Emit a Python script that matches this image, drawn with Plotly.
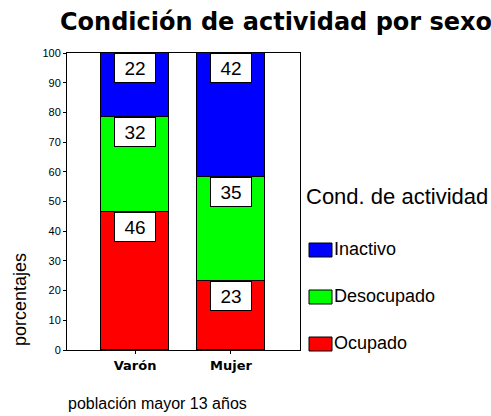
import plotly.graph_objects as go

# Data
sexos = ["Varón", "Mujer"]
condiciones = ["Ocupado", "Desocupado", "Inactivo"]
ocupado = [46.5, 23.2]
desocupado = [31.8, 35.0]
inactivo = [21.7, 41.8]
etiquetas = {"Ocupado": [46, 23], "Desocupado": [32, 35], "Inactivo": [22, 42]}
colores = {"Ocupado": "#FF0000", "Desocupado": "#00FF00", "Inactivo": "#0000FF"}
valores = {"Ocupado": ocupado, "Desocupado": desocupado, "Inactivo": inactivo}

W, H = 491, 416
L, R, T, B = 67, 300, 53, 350  # plot area in px

def px_x(x):
    return (x - L) / (R - L)

def px_y(y):
    return (B - y) / (B - T)

fig = go.Figure()
for c in condiciones:
    fig.add_trace(go.Bar(x=sexos, y=valores[c], name=c, marker_color=colores[c],
                         marker_line=dict(color="black", width=1), width=0.71,
                         showlegend=False, hoverinfo="skip"))

# value labels in white boxes, at the top of each segment
for i, s in enumerate(sexos):
    base = 0
    for c in condiciones:
        top = base + valores[c][i]
        fig.add_annotation(x=s, y=top, text=str(etiquetas[c][i]), showarrow=False,
                           yanchor="top", xanchor="center", bgcolor="white",
                           bordercolor="black", borderwidth=1, width=38, height=26,
                           font=dict(size=19, color="black", family="Arial"))
        base = top

# manual legend
fig.add_annotation(x=px_x(304), y=px_y(196), xref="paper", yref="paper",
                   text="Cond. de actividad", showarrow=False, xanchor="left",
                   yanchor="middle", font=dict(size=22, color="black", family="Arial"))
leg_y = {"Inactivo": 250, "Desocupado": 297, "Ocupado": 344}
for c in condiciones:
    yc = leg_y[c]
    fig.add_shape(type="rect", xref="paper", yref="paper",
                  x0=px_x(309), x1=px_x(332), y0=px_y(yc - 7), y1=px_y(yc + 7),
                  fillcolor=colores[c], line=dict(color="black", width=1))
    fig.add_annotation(x=px_x(332), y=px_y(yc - 1), xref="paper", yref="paper",
                       text=c, showarrow=False, xanchor="left", yanchor="middle",
                       font=dict(size=18, color="black", family="Arial"))

# y axis title and footnote
fig.add_annotation(x=px_x(20), y=px_y(300), xref="paper", yref="paper",
                   text="porcentajes", textangle=-90, showarrow=False,
                   xanchor="center", yanchor="middle",
                   font=dict(size=18, color="black", family="Arial"))
fig.add_annotation(x=px_x(66), y=px_y(403), xref="paper", yref="paper",
                   text="población mayor 13 años", showarrow=False, xanchor="left",
                   yanchor="middle", font=dict(size=16, color="black", family="Arial"))

fig.update_layout(
    barmode="stack",
    width=W, height=H,
    margin=dict(l=L, r=W - R, t=T, b=H - B, pad=0),
    plot_bgcolor="white", paper_bgcolor="white",
    title=dict(text="<b>Condición de actividad por sexo</b>", x=276 / W, xanchor="center",
               y=1 - 22 / H, yanchor="middle",
               font=dict(size=24, color="black", family="DejaVu Sans")),
    font=dict(family="Arial", color="black"),
    bargap=0,
)
fig.update_xaxes(range=[-0.71, 1.72], showline=True, linecolor="black", linewidth=1,
                 mirror=True, ticks="outside", ticklen=3, tickcolor="black",
                 tickfont=dict(size=13, family="DejaVu Sans", color="black"),
                 ticktext=["<b>Varón</b>", "<b>Mujer</b>"], tickvals=sexos)
fig.update_yaxes(range=[0, 100], dtick=10, showline=True, linecolor="black", linewidth=1,
                 mirror=True, ticks="outside", ticklen=3, tickcolor="black",
                 showgrid=False, zeroline=False, tickfont=dict(size=11, color="black"))

fig.write_html("out.html", config={"displayModeBar": False},
               post_script="document.body.style.margin='0';")
